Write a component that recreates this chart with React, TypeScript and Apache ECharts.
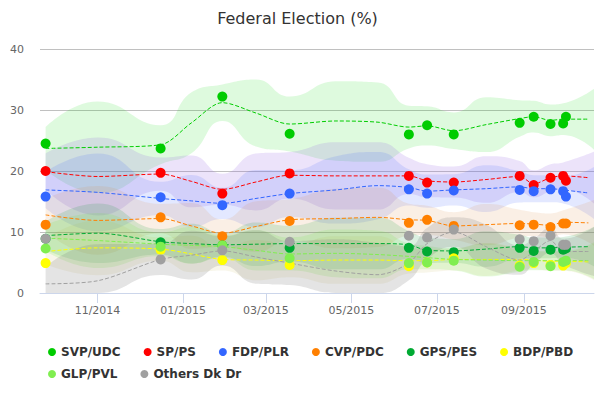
import React, { useEffect, useRef } from "react";
import * as echarts from "echarts";

// ---- data ----
const parties = ["SVP/UDC", "SP/PS", "FDP/PLR", "CVP/PDC", "GPS/PES", "BDP/PBD", "GLP/PVL", "Others Dk Dr"];
const pointColors = ["#00cc00", "#ff0000", "#3366ff", "#ff8000", "#00aa33", "#ffff00", "#80ee50", "#a0a0a0"];
const bandColors = [
  "rgba(0,220,0,0.13)",
  "rgba(150,100,230,0.18)",
  "rgba(70,100,255,0.15)",
  "rgba(220,140,70,0.14)",
  "rgba(0,150,40,0.14)",
  "rgba(190,170,60,0.11)",
  "rgba(110,230,70,0.17)",
  "rgba(120,120,120,0.2)",
];

const pollDates = [
  "2014-09-25", "2014-12-16", "2015-01-29", "2015-03-18", "2015-06-11", "2015-06-24",
  "2015-07-13", "2015-08-29", "2015-09-08", "2015-09-20", "2015-09-29", "2015-10-01",
];
const pollSVP = [24.5, 23.7, 32.2, 26.1, 26.0, 27.5, 26.0, 27.9, 28.9, 27.7, 27.8, 28.9];
const pollSP = [20.0, 19.7, 16.3, 19.6, 19.2, 18.1, 18.1, 19.2, 17.7, 18.9, 19.2, 18.4];
const pollFDP = [15.8, 15.7, 14.4, 16.3, 17.0, 16.3, 16.8, 16.9, 16.7, 17.0, 16.7, 15.8];
const pollCVP = [11.2, 12.4, 9.3, 11.8, 11.5, 12.0, 11.0, 11.1, 11.2, 10.8, 11.4, 11.4];
const pollGPS = [8.9, 8.3, 7.8, 7.4, 7.4, 6.8, 6.7, 7.4, 6.9, 7.1, 7.1, 7.3];
const pollBDP = [4.9, 7.1, 5.4, 4.6, 4.4, 5.0, 5.7, 4.5, 4.9, 4.6, 4.5, 4.9];
const pollGLP = [7.3, 7.6, 7.8, 5.7, 4.9, 5.0, 5.3, 4.3, 5.1, 4.4, 5.1, 5.3];
const pollOthers = [8.9, 5.5, 7.0, 8.4, 9.4, 9.1, 10.4, 8.8, 8.5, 9.4, 7.9, 7.9];

const trendDates = [
  "2014-09-25", "2014-11-01", "2014-12-16", "2015-01-07", "2015-01-29", "2015-02-22",
  "2015-03-18", "2015-04-20", "2015-05-20", "2015-06-11", "2015-06-24", "2015-07-13",
  "2015-08-05", "2015-08-29", "2015-09-08", "2015-09-20", "2015-09-29", "2015-10-17",
];
const trendSVP = [23.7, 23.9, 24.3, 27.9, 31.2, 29.5, 27.7, 28.2, 28.0, 27.2, 27.4, 26.6, 27.6, 28.6, 28.9, 28.3, 28.5, 28.5];
const trendSP = [19.9, 19.1, 19.5, 18.3, 17.0, 18.2, 19.3, 19.2, 19.2, 19.2, 18.4, 18.2, 18.6, 19.1, 17.9, 18.9, 19.2, 18.9];
const trendFDP = [16.9, 16.5, 15.5, 15.1, 14.7, 15.5, 16.3, 16.9, 17.6, 17.3, 16.7, 16.9, 17.1, 17.4, 17.1, 17.1, 16.9, 16.4];
const trendCVP = [12.8, 11.9, 12.2, 11.0, 9.8, 10.9, 12.0, 12.2, 12.4, 12.0, 11.9, 11.0, 11.2, 11.4, 11.3, 11.1, 11.6, 11.5];
const trendGPS = [9.4, 9.8, 8.4, 8.1, 7.9, 8.0, 8.1, 8.1, 8.1, 7.9, 7.0, 6.9, 7.2, 7.6, 7.4, 7.4, 7.5, 7.6];
const trendBDP = [6.8, 7.4, 7.2, 6.4, 5.5, 5.4, 5.3, 5.4, 5.4, 5.3, 5.3, 5.5, 5.5, 5.5, 5.4, 5.2, 5.2, 5.1];
const trendGLP = [9.0, 8.6, 8.0, 7.8, 7.6, 7.0, 6.4, 6.5, 6.3, 6.0, 5.8, 5.5, 5.4, 5.3, 5.3, 5.3, 5.3, 5.3];
const trendOthers = [1.5, 2.0, 5.5, 6.2, 6.9, 5.9, 4.9, 3.6, 3.0, 4.9, 8.1, 10.0, 7.6, 5.4, 6.8, 8.6, 6.8, 6.8];

// half-width of the uncertainty band (largest party), and the per-party scale of it
const bandHalfWidth = [3.5, 7.5, 3.2, 5.0, 3.0, 5.5, 4.5, 6.5, 6.5, 3.5, 3.2, 3.0, 4.5, 3.0, 2.6, 2.6, 2.6, 5.0];
const bandScale = [1, 0.85, 0.85, 0.75, 0.65, 0.6, 0.6, 0.8];

const xMin = "2014-09-21";
const xMax = "2015-10-21";
const yTicks = { min: 0, max: 40, interval: 10 };

const polls = [pollSVP, pollSP, pollFDP, pollCVP, pollGPS, pollBDP, pollGLP, pollOthers];
const trends = [trendSVP, trendSP, trendFDP, trendCVP, trendGPS, trendBDP, trendGLP, trendOthers];

const toTs = (s: string) => {
  const [y, m, d] = s.split("-").map(Number);
  return new Date(y, m - 1, d).getTime();
};

const FONT = "DejaVu Sans";

function buildOption() {
  const series: any[] = [];
  const bandDates = trendDates.map((d, i) => (i === trendDates.length - 1 ? xMax : d));
  parties.forEach((name, p) => {
    const lower = trends[p].map((v, k) => Math.max(0, v - bandHalfWidth[k] * bandScale[p]));
    const upper = trends[p].map((v, k) => v + bandHalfWidth[k] * bandScale[p]);
    series.push({
      type: "line",
      name: name + " low",
      stack: "band" + p,
      data: bandDates.map((d, k) => [toTs(d), lower[k]]),
      symbol: "none",
      smooth: 0.5,
      lineStyle: { opacity: 0 },
      silent: true,
      z: 1,
    });
    series.push({
      type: "line",
      name: name + " band",
      stack: "band" + p,
      data: bandDates.map((d, k) => [toTs(d), upper[k] - lower[k]]),
      symbol: "none",
      smooth: 0.5,
      lineStyle: { opacity: 0 },
      areaStyle: { color: bandColors[p], opacity: 1 },
      silent: true,
      z: 1,
    });
  });
  parties.forEach((name, p) => {
    series.push({
      type: "line",
      name: name + " trend",
      data: trendDates.map((d, k) => [toTs(d), trends[p][k]]),
      symbol: "none",
      smooth: 0.3,
      lineStyle: { color: pointColors[p], width: 1, type: [4, 2] },
      silent: true,
      z: 2,
    });
  });
  parties.forEach((name, p) => {
    series.push({
      type: "scatter",
      name,
      data: pollDates.map((d, k) => [toTs(d), polls[p][k]]),
      symbol: "circle",
      symbolSize: 10,
      itemStyle: { color: pointColors[p], opacity: 1 },
      z: 3,
    });
  });

  const legendBase = {
    orient: "horizontal",
    icon: "circle",
    itemWidth: 8,
    itemHeight: 8,
    itemGap: 23,
    left: 48,
    padding: 0,
    selectedMode: false,
    textStyle: { fontFamily: FONT, fontWeight: "bold", fontSize: 12, color: "#333333" },
  };

  return {
    animation: false,
    backgroundColor: "#ffffff",
    title: {
      text: "Federal Election (%)",
      left: "center",
      top: 5,
      textStyle: { fontFamily: FONT, fontSize: 16, fontWeight: "normal", color: "#333333" },
    },
    legend: [
      { ...legendBase, top: 346, data: parties.slice(0, 6) },
      { ...legendBase, top: 368, data: parties.slice(6) },
    ],
    grid: { left: 40, right: 1, top: 49, bottom: 100, containLabel: false },
    xAxis: {
      type: "time",
      min: toTs(xMin),
      max: toTs(xMax),
      splitNumber: 6,
      axisLine: { show: true, lineStyle: { color: "#ccd6eb", width: 1 } },
      axisTick: { show: true, length: 10, lineStyle: { color: "#ccd6eb" } },
      axisLabel: {
        color: "#666666",
        fontFamily: FONT,
        fontSize: 11,
        margin: 12,
        showMinLabel: false,
        showMaxLabel: false,
        formatter: (v: number) => {
          const d = new Date(v);
          return String(d.getMonth() + 1).padStart(2, "0") + "/" + d.getFullYear();
        },
      },
      splitLine: { show: false },
    },
    yAxis: {
      type: "value",
      min: yTicks.min,
      max: yTicks.max,
      interval: yTicks.interval,
      axisLine: { show: false },
      axisTick: { show: false },
      axisLabel: { color: "#666666", fontFamily: FONT, fontSize: 11, margin: 16 },
      splitLine: { lineStyle: { color: "#c0c0c0", width: 1 } },
    },
    series,
  };
}

export default function App() {
  const ref = useRef<HTMLDivElement>(null);
  useEffect(() => {
    if (!ref.current) return;
    const chart = echarts.init(ref.current, undefined, { renderer: "svg" });
    chart.setOption(buildOption() as any);
    return () => chart.dispose();
  }, []);
  return <div ref={ref} style={{ width: 595, height: 393, position: "absolute", left: 0, top: 0 }} />;
}
